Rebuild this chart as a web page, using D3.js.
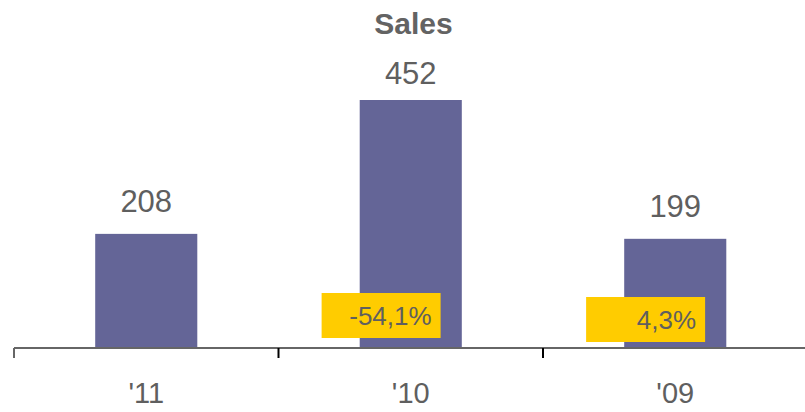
<!DOCTYPE html>
<html>
<head>
<meta charset="utf-8">
<script src="https://cdn.jsdelivr.net/npm/d3@7"></script>
<style>
  body { margin: 0; background: #fff; }
  text { font-family: "Liberation Sans", Arial, sans-serif; }
</style>
</head>
<body>
<svg width="805" height="412"></svg>
<script>
//Chart data
const years = ["'11", "'10", "'09"];
const sales = [208, 452, 199];
const changeYears = ["'10", "'09"];
const changeLabels = ["-54,1%", "4,3%"];

const svg = d3.select("svg");
const textColor = "#5f5f5f";

//Title
svg.append("text")
    .attr("x", 413.5)
    .attr("y", 34)
    .attr("text-anchor", "middle")
    .attr("font-size", "30px")
    .attr("font-weight", "bold")
    .attr("fill", "#636363")
    .text("Sales");

//X scale for the years
const x = d3.scaleBand()
    .domain(years)
    .range([14, 807.5]);

const barWidth = x.bandwidth() * 0.386;

//Y scale for sales
const y = d3.scaleLinear()
    .domain([0, 452])
    .range([348, 100]);

//Labels sit on a slightly flatter scale than the bars
const yLabel = d3.scaleLinear()
    .domain([0, 452])
    .range([321, 84]);

//Bars
svg.selectAll(".bar")
    .data(sales)
    .enter()
    .append("rect")
    .attr("class", "bar")
    .attr("x", (d, i) => x(years[i]) + x.bandwidth() / 2 - barWidth / 2)
    .attr("y", d => y(d))
    .attr("width", barWidth)
    .attr("height", d => y(0) - y(d))
    .attr("fill", "#646597");

//Value labels above bars
svg.selectAll(".label")
    .data(sales)
    .enter()
    .append("text")
    .attr("class", "label")
    .attr("x", (d, i) => x(years[i]) + x.bandwidth() / 2)
    .attr("y", d => yLabel(d))
    .attr("text-anchor", "middle")
    .attr("font-size", "31px")
    .attr("fill", textColor)
    .text(d => d);

//X axis
const axis = svg.append("g")
    .attr("transform", `translate(0, ${y(0)})`)
    .call(d3.axisBottom(x).tickSize(0).tickFormat(""));
axis.select(".domain")
    .attr("stroke", "#666")
    .attr("stroke-width", 2)
    .attr("d", `M${x.range()[0]},0H${x.range()[1]}`);

//Tick marks on band edges
svg.selectAll(".edge")
    .data(years)
    .enter()
    .append("line")
    .attr("class", "edge")
    .attr("x1", d => x(d))
    .attr("x2", d => x(d))
    .attr("y1", y(0))
    .attr("y2", y(0) + 10)
    .attr("stroke", (d, i) => i === 0 ? "#666" : "#000")
    .attr("stroke-width", 2);

//Category labels
svg.selectAll(".cat")
    .data(years)
    .enter()
    .append("text")
    .attr("class", "cat")
    .attr("x", d => x(d) + x.bandwidth() / 2)
    .attr("y", 403)
    .attr("text-anchor", "middle")
    .attr("font-size", "29px")
    .attr("fill", textColor)
    .text(d => d);

//Yellow change boxes
const boxW = 119, boxH = 45;
const change = svg.selectAll(".change")
    .data(changeLabels)
    .enter()
    .append("g")
    .attr("class", "change")
    .attr("transform", (d, i) => `translate(${x(changeYears[i]) + x.bandwidth() * 0.163}, ${293 + i * 4})`);

change.append("rect")
    .attr("width", boxW)
    .attr("height", boxH)
    .attr("fill", "#ffcc00");

change.append("text")
    .attr("x", boxW - 9)
    .attr("y", 32)
    .attr("text-anchor", "end")
    .attr("font-size", "26px")
    .attr("fill", textColor)
    .text(d => d);
</script>
</body>
</html>
